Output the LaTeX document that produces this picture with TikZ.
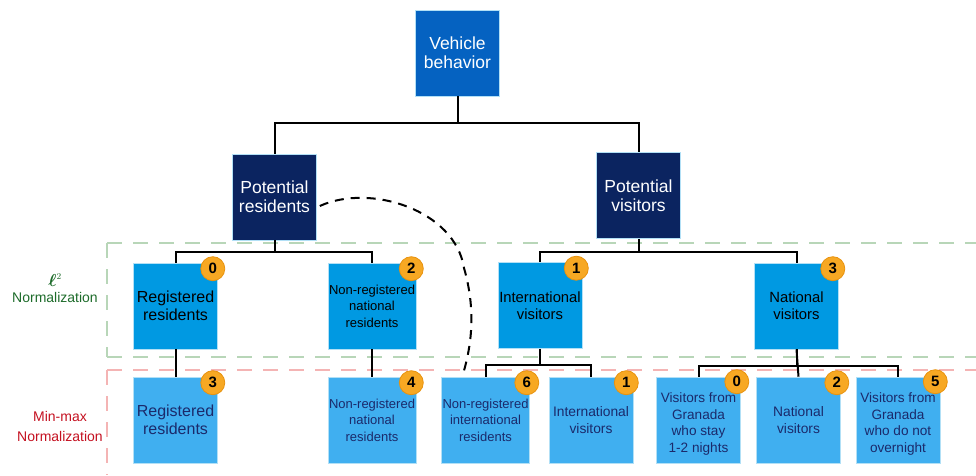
\documentclass[tikz,border=0pt]{standalone}
\usepackage{amsmath}
\usepackage{fontspec}
\setmainfont{Liberation Sans}
\usetikzlibrary{calc}
\definecolor{vbcol}{HTML}{0562C1}
\definecolor{navy}{HTML}{0B2460}
\definecolor{ltwo}{HTML}{0099E2}
\definecolor{lthree}{HTML}{40AFF0}
\definecolor{badgecol}{HTML}{F7A823}
\definecolor{badgeedge}{HTML}{E8920E}
\definecolor{gdash}{HTML}{B8D6B8}
\definecolor{rdash}{HTML}{F4B4B4}
\definecolor{gtext}{HTML}{1D6B2A}
\definecolor{rtext}{HTML}{C41020}
\definecolor{ntext}{HTML}{1B2A6B}
\tikzset{
  box/.style={minimum width=84pt, minimum height=86pt, inner sep=1pt, align=center, draw=white!70!ltwo, line width=0.6pt},
  topbox/.style={box, fill=vbcol, text=white, font=\fontsize{17.5}{19}\selectfont},
  midbox/.style={box, fill=navy, text=white, font=\fontsize{17.5}{19}\selectfont},
  twobox/.style={box, fill=ltwo, text=black},
  threebox/.style={box, fill=lthree, text=ntext},
  big/.style={font=\fontsize{16}{18}\selectfont},
  med/.style={font=\fontsize{14.8}{17}\selectfont},
  sml/.style={font=\fontsize{13}{16.5}\selectfont},
  lowtext/.style={align=center, text=ntext, inner sep=0pt, yshift=-4pt, font=\fontsize{13.6}{16.6}\selectfont},
  badge/.style={circle, fill=badgecol, draw=badgeedge, line width=0.8pt, minimum size=24pt, inner sep=0pt, font=\fontsize{15}{15}\selectfont\bfseries},
  conn/.style={line width=2pt, black},
  dcurve/.style={line width=2pt, black, dash pattern=on 9pt off 7pt},
  gline/.style={gdash, line width=1.6pt, dash pattern=on 15pt off 11pt},
  rline/.style={rdash, line width=1.6pt, dash pattern=on 15pt off 11pt},
}
\begin{document}
\begin{tikzpicture}[x=1pt,y=-1pt]
\useasboundingbox (0,0) rectangle (976,475);
% normalization bands
\draw[gline] (107,243) -- (976,243);
\draw[gline] (107,243) -- (107,357);
\draw[gline] (107,357) -- (976,357);
\draw[rline] (107,370) -- (976,370);
\draw[rline] (107,370) -- (107,475);
\node[gtext, font=\fontsize{19}{19}\selectfont] (l2sym) at (55,280) {$\boldsymbol{\ell}^{\scriptscriptstyle 2}$};
\node[gtext, font=\fontsize{14}{16}\selectfont] (l2lab) at (55,297) {Normalization};
\node[rtext, align=center, font=\fontsize{14}{20}\selectfont] (mmlab) at (60,426) {Min-max\\Normalization};
% top levels
\node[topbox] (veh) at (457.5,53) {Vehicle\\behavior};
\node[midbox] (pr) at (274.5,197) {Potential\\residents};
\node[midbox] (pv) at (638.5,195.5) {Potential\\visitors};
% l2 level
\node[twobox, big] (rr2) at (175.5,306) {Registered\\residents};
\node[twobox, sml] (nrnr2) at (372,306) {Non-registered\\national\\residents};
\node[twobox, med] (iv2) at (540,305.5) {International\\visitors};
\node[twobox, med] (nv2) at (796.5,306) {National\\visitors};
% min-max level
\node[threebox, big] (rr3) at (175.5,420) {Registered\\residents};
\node[threebox, sml] (nrnr3) at (372,420) {Non-registered\\national\\residents};
\node[threebox, sml] (nrir3) at (485.5,420) {Non-registered\\international\\residents};
\node[threebox, font=\fontsize{13.8}{16.5}\selectfont] (iv3) at (591,420) {International\\visitors};
\node[threebox] (vg1) at (698.5,420) {};
\node[lowtext] (vg1t) at (vg1.center) {Visitors from\\Granada\\who stay\\1-2 nights};
\node[threebox, font=\fontsize{13.8}{16.5}\selectfont] (nv3) at (798.5,420) {National\\visitors};
\node[threebox] (vg2) at (898,420) {};
\node[lowtext] (vg2t) at (vg2.center) {Visitors from\\Granada\\who do not\\overnight};
% connectors
\draw[conn] (veh.south) -- ++(0,27) -| (pr.north);
\draw[conn] (veh.south) -- ++(0,27) -| (pv.north);
\draw[conn] (pr.south) -- ++(0,12) -| (rr2.north);
\draw[conn] (pr.south) -- ++(0,12) -| (nrnr2.north);
\draw[conn] (pv.south) -- ++(0,13.5) -| (iv2.north);
\draw[conn] (pv.south) -- ++(0,13.5) -| (nv2.north);
\draw[conn] (rr2.south) -- (rr3.north);
\draw[conn] (nrnr2.south) -- (nrnr3.north);
\draw[conn] (iv2.south) -- ++(0,16.5) -| (nrir3.north);
\draw[conn] (iv2.south) -- ++(0,16.5) -| (iv3.north);
\draw[conn] (nv2.south) -- ++(0,16.5) -| (vg1.north);
\draw[conn] (nv2.south) -- (nv3.north);
\draw[conn] (nv2.south) -- ++(0,16.5) -| (vg2.north);
% dashed curve
\draw[dcurve] ([shift={(3,9)}]pr.east) .. controls (370,183) and (455,210) .. (464,268) .. controls (476,310) and (472,345) .. ([shift={(21,0)}]nrir3.north west);
% badges
\node[badge] (b1) at ([shift={(-5,6)}]rr2.north east) {0};
\node[badge] (b2) at ([shift={(-5,6)}]nrnr2.north east) {2};
\node[badge] (b3) at ([shift={(-6,6)}]iv2.north east) {1};
\node[badge] (b4) at ([shift={(-6,6)}]nv2.north east) {3};
\node[badge] (b5) at ([shift={(-5,6)}]rr3.north east) {3};
\node[badge] (b6) at ([shift={(-5,6)}]nrnr3.north east) {4};
\node[badge] (b7) at ([shift={(-3,6)}]nrir3.north east) {6};
\node[badge] (b8) at ([shift={(-7,6)}]iv3.north east) {1};
\node[badge] (b9) at ([shift={(-4,5)}]vg1.north east) {0};
\node[badge] (b10) at ([shift={(-4,6)}]nv3.north east) {2};
\node[badge] (b11) at ([shift={(-5,5)}]vg2.north east) {5};
\end{tikzpicture}
\end{document}
